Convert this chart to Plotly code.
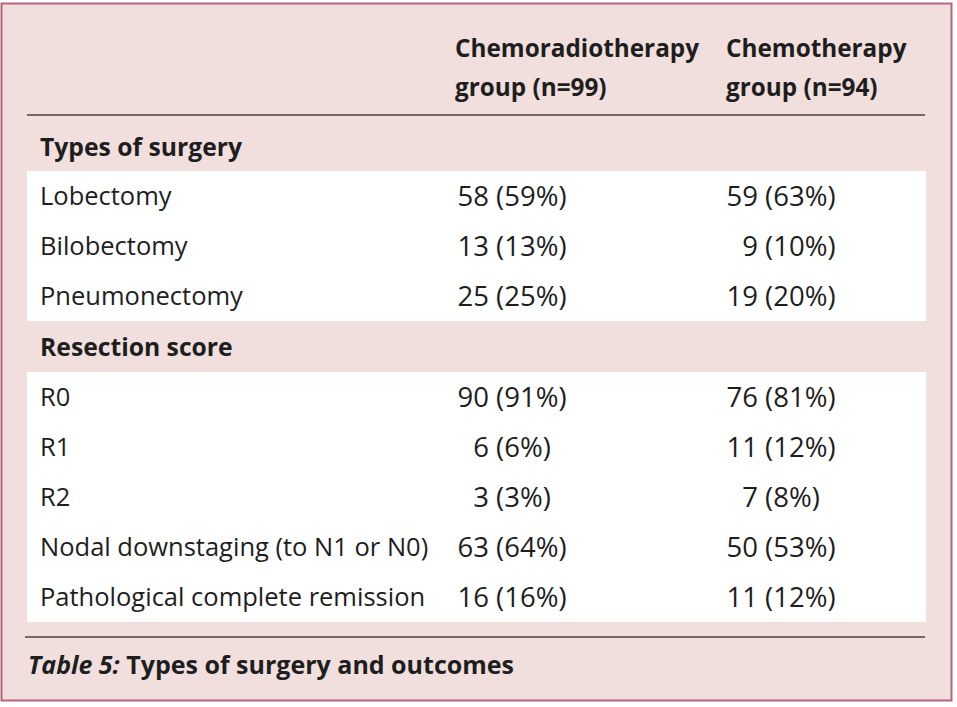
import plotly.graph_objects as go

# ---- data ----
col_headers_l1 = ["Chemoradiotherapy", "Chemotherapy"]
col_headers_l2 = ["group (n=99)", "group (n=94)"]
sections = ["Types of surgery", "Resection score"]
surgery_labels = ["Lobectomy", "Bilobectomy", "Pneumonectomy"]
surgery_crt = ["58 (59%)", "13 (13%)", "25 (25%)"]
surgery_ct = ["59 (63%)", "\u20079 (10%)", "19 (20%)"]
outcome_labels = ["R0", "R1", "R2", "Nodal downstaging (to N1 or N0)", "Pathological complete remission"]
outcome_crt = ["90 (91%)", "6 (6%)", "3 (3%)", "63 (64%)", "16 (16%)"]
outcome_ct = ["76 (81%)", "11 (12%)", "7 (8%)", "50 (53%)", "11 (12%)"]
caption = "<i>Table 5:</i> Types of surgery and outcomes"

# ---- layout constants ----
W, H = 957, 707
FONT = "Open Sans"
TXT = "#1e1e1e"
BG = "#F1DFDE"
BORDER = "#B5647F"
ROW_H = 50
LABEL_X = 40
CRT_X = 512
CT_X = 781
DY = 3  # vertical text tweak

fig = go.Figure()

# background panel and white blocks
fig.add_shape(type="rect", x0=1.5, y0=3.5, x1=951.5, y1=700.5,
              fillcolor=BG, line=dict(color=BORDER, width=2), layer="below")
fig.add_shape(type="rect", x0=27, y0=171, x1=926, y1=321,
              fillcolor="white", line=dict(width=0), layer="below")
fig.add_shape(type="rect", x0=27, y0=372, x1=926, y1=622,
              fillcolor="white", line=dict(width=0), layer="below")
fig.add_shape(type="line", x0=27, y0=115, x1=925, y1=115,
              line=dict(color="#444444", width=1.5))
fig.add_shape(type="line", x0=25, y0=637, x1=925, y1=637,
              line=dict(color="#444444", width=1.5))

# rows
y_surg = [196 + DY + ROW_H * i for i in range(len(surgery_labels))]
y_out = [397 + DY + ROW_H * i for i in range(len(outcome_labels))]
y_sec = [147 + DY, 347 + DY]

def text_trace(xs, ys, texts, pos, size=25.5, bold=False):
    if bold:
        texts = [f"<b>{t}</b>" for t in texts]
    return go.Scatter(x=xs, y=ys, text=texts, mode="text", textposition=pos,
                      textfont=dict(family=FONT, size=size, color=TXT),
                      hoverinfo="skip", showlegend=False)

# column headers
fig.add_trace(text_trace([455, 726], [48 + DY] * 2, col_headers_l1, "middle right", size=24.3, bold=True))
fig.add_trace(text_trace([455, 726], [87 + DY] * 2, col_headers_l2, "middle right", size=24.3, bold=True))
# section headers
fig.add_trace(text_trace([LABEL_X] * 2, y_sec, sections, "middle right", size=24.7, bold=True))
# labels
fig.add_trace(text_trace([LABEL_X] * 3, y_surg, surgery_labels, "middle right"))
fig.add_trace(text_trace([LABEL_X] * 5, y_out, outcome_labels, "middle right"))
# values
VS = 27.5
fig.add_trace(text_trace([CRT_X] * 3, y_surg, surgery_crt, "middle center", size=VS))
fig.add_trace(text_trace([CT_X] * 3, y_surg, surgery_ct, "middle center", size=VS))
fig.add_trace(text_trace([CRT_X] * 5, y_out, outcome_crt, "middle center", size=VS))
fig.add_trace(text_trace([CT_X] * 5, y_out, outcome_ct, "middle center", size=VS))
# caption
fig.add_trace(text_trace([28], [665 + DY], [caption], "middle right", size=25, bold=True))

fig.update_layout(
    width=W, height=H, margin=dict(l=0, r=0, t=0, b=0),
    paper_bgcolor="white", plot_bgcolor="white",
    xaxis=dict(range=[0, W], visible=False, fixedrange=True),
    yaxis=dict(range=[H, 0], visible=False, fixedrange=True),
)

fig.write_html("out.html", config={"displayModeBar": False},
               post_script="document.body.style.margin='0px';document.body.style.overflow='hidden';")
